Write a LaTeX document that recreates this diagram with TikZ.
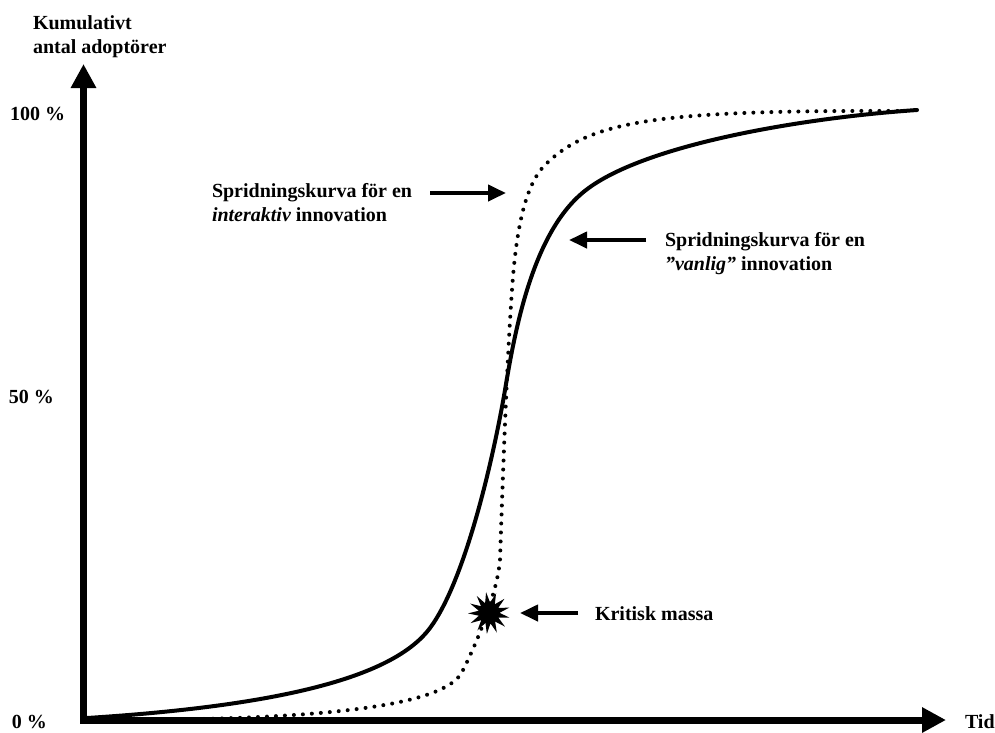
\documentclass[tikz,border=0pt]{standalone}
\usepackage{fontspec}
\setmainfont{Liberation Serif}
\usetikzlibrary{arrows.meta,shapes.geometric}
\begin{document}
\begin{tikzpicture}[x=1pt,y=-1pt,
  lbl/.style={inner sep=0pt,outer sep=0pt,font=\fontsize{20}{24}\selectfont\bfseries,align=left},
  axis/.style={line width=7pt,-{Triangle[length=24pt,width=24pt]}},
  ptr/.style={line width=4pt,-{Triangle[length=18pt,width=16pt]}},
  solidcurve/.style={line width=4pt,line cap=round},
  dotcurve/.style={line width=4pt,line cap=round,dash pattern=on 0pt off 9pt}]
\useasboundingbox (0,0) rectangle (995,732);
% axes
\coordinate (O) at (83.5,720);
\coordinate (ytop) at (83.5,64);
\coordinate (xend) at (946,720);
\draw[axis] (83.5,723.5) -- (ytop);
\draw[axis] (80,720) -- (xend);
% labels
\node[lbl,anchor=base west] (ylab1) at (33,29) {Kumulativt};
\node[lbl,anchor=base west] (ylab2) at (33,53) {antal adoptörer};
\node[lbl,anchor=base west] (p100) at (10,120) {100 \%};
\node[lbl,anchor=base west] (p50) at (9,403) {50 \%};
\node[lbl,anchor=base west] (p0) at (12,728) {0 \%};
\node[lbl,anchor=base west] (tid) at (965,728) {Tid};
% curves
\draw[solidcurve] (87,718) .. controls (290,705) and (395,675) .. (430,628)
  .. controls (465,581) and (493,460) .. (505,390)
  .. controls (515,330) and (532,238) .. (580,195)
  .. controls (634,146) and (800,118) .. (917,110);
\draw[dotcurve] (87,720) .. controls (330,721) and (445,705) .. (462,672)
  .. controls (475,647) and (497,595) .. (500,560)
  .. controls (503,470) and (507,360) .. (512,290)
  .. controls (516,230) and (525,185) .. (545,165)
  .. controls (590,120) and (660,110) .. (905,111);
% star
\node[star,star points=13,star point ratio=2,minimum size=42pt,inner sep=0pt,fill=black,rotate=8] (star) at (489,613) {};
% annotations
\node[lbl,anchor=base west] (inter1) at (212,197) {Spridningskurva för en};
\node[lbl,anchor=base west] (inter2) at (212,221) {\itshape interaktiv\upshape{} innovation};
\node[lbl,anchor=base west] (van1) at (665,246) {Spridningskurva för en};
\node[lbl,anchor=base west] (van2) at (665,270) {\itshape ”vanlig”\upshape{} innovation};
\node[lbl,anchor=base west] (krit) at (595,620) {Kritisk massa};
\coordinate (interA) at (430,193);
\coordinate (interB) at (506,193);
\coordinate (vanA) at (646,240);
\coordinate (vanB) at (569,240);
\coordinate (kritA) at (578,613);
\coordinate (kritB) at (520,613);
\draw[ptr] (interA) -- (interB);
\draw[ptr] (vanA) -- (vanB);
\draw[ptr] (kritA) -- (kritB);
\end{tikzpicture}
\end{document}
